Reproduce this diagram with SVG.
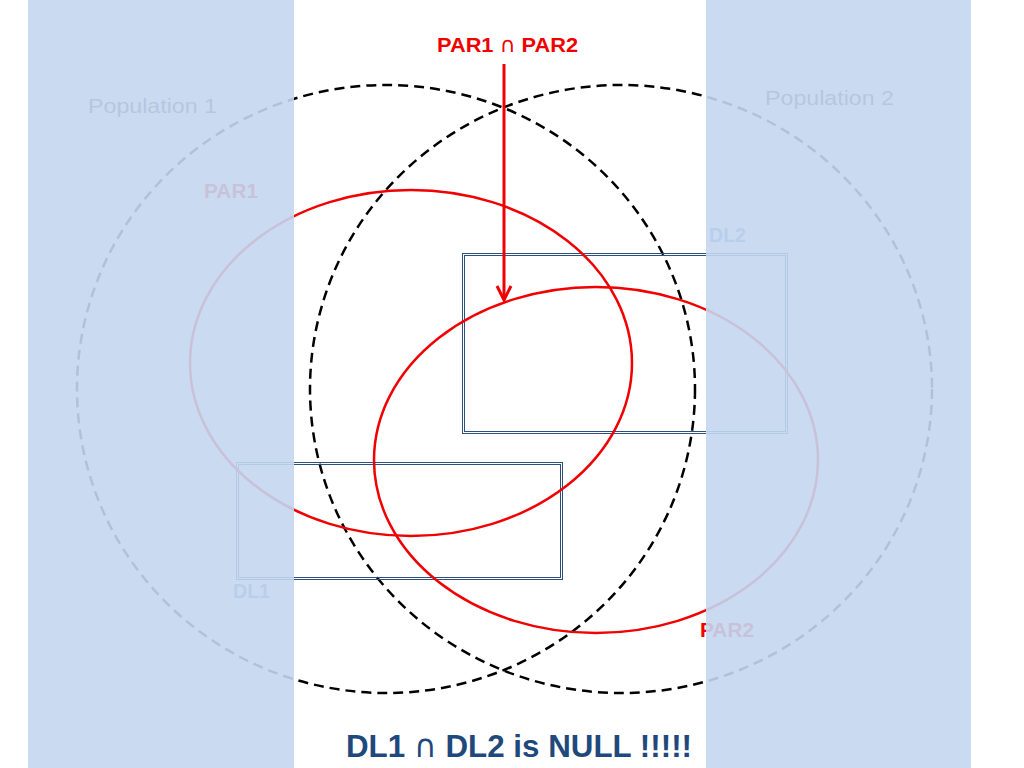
<svg xmlns="http://www.w3.org/2000/svg" width="1024" height="768" viewBox="0 0 1024 768">
<style>
.pop{fill:none;stroke:#000;stroke-width:2.5;stroke-dasharray:10 6}
.par{fill:none;stroke:#F00000;stroke-width:2.5}
.dl{fill:none;stroke:#2F4F7F;stroke-width:1}
.lbl{font-family:"Liberation Sans",Arial,sans-serif}
.sym{font-family:"DejaVu Sans",sans-serif;font-weight:normal}
.band{fill:#C3D6EF;opacity:0.9}
</style>
<defs>
<marker id="ah" viewBox="0 0 20 20" refX="17" refY="10" markerWidth="20" markerHeight="20" orient="auto" markerUnits="userSpaceOnUse">
<path d="M3,3 L17,10 L3,17" fill="none" stroke="#F00000" stroke-width="3"/>
</marker>
</defs>
<rect width="1024" height="768" fill="#fff"/>
<g id="population1">
<ellipse class="pop" cx="386" cy="389" rx="309" ry="304"/>
<text class="lbl" x="88" y="113" font-size="21" fill="#3A3A3A" textLength="129" lengthAdjust="spacingAndGlyphs">Population 1</text>
</g>
<g id="population2">
<ellipse class="pop" cx="621" cy="389" rx="311" ry="304"/>
<text class="lbl" x="765" y="105" font-size="21" fill="#3A3A3A" textLength="129" lengthAdjust="spacingAndGlyphs">Population 2</text>
</g>
<g id="dl2">
<rect class="dl" x="462.5" y="253.5" width="325" height="180"/>
<rect class="dl" x="464.5" y="255.5" width="321" height="176"/>
<text class="lbl" x="709" y="242" font-size="20" font-weight="bold" fill="#4F81BD" textLength="37" lengthAdjust="spacingAndGlyphs">DL2</text>
</g>
<g id="dl1">
<rect class="dl" x="236.5" y="462.5" width="326" height="117"/>
<rect class="dl" x="238.5" y="464.5" width="322" height="113"/>
<text class="lbl" x="233" y="598" font-size="20" font-weight="bold" fill="#4F81BD" textLength="37" lengthAdjust="spacingAndGlyphs">DL1</text>
</g>
<g id="par1">
<ellipse class="par" cx="411" cy="363" rx="221" ry="173"/>
<text class="lbl" x="204" y="198" font-size="20" font-weight="bold" fill="#F00000" textLength="54" lengthAdjust="spacingAndGlyphs">PAR1</text>
</g>
<g id="par2">
<ellipse class="par" cx="596" cy="460" rx="222" ry="173"/>
<text class="lbl" x="700" y="637" font-size="20" font-weight="bold" fill="#F00000" textLength="54" lengthAdjust="spacingAndGlyphs">PAR2</text>
</g>
<g id="bands">
<rect class="band" x="28" y="0" width="266" height="768"/>
<rect class="band" x="706" y="0" width="265" height="768"/>
</g>
<g id="connectors">
<line x1="504" y1="64" x2="504" y2="300" stroke="#F00000" stroke-width="3" marker-end="url(#ah)"/>
</g>
<g id="title">
<text class="lbl" x="437" y="52" font-size="21" font-weight="bold" fill="#F00000" textLength="141" lengthAdjust="spacingAndGlyphs">PAR1 <tspan class="sym">∩</tspan> PAR2</text>
</g>
<g id="caption">
<text class="lbl" x="346" y="757" font-size="32" font-weight="bold" fill="#1F497D" textLength="346" lengthAdjust="spacingAndGlyphs">DL1 <tspan class="sym">∩</tspan> DL2 is NULL !!!!!</text>
</g>
</svg>
